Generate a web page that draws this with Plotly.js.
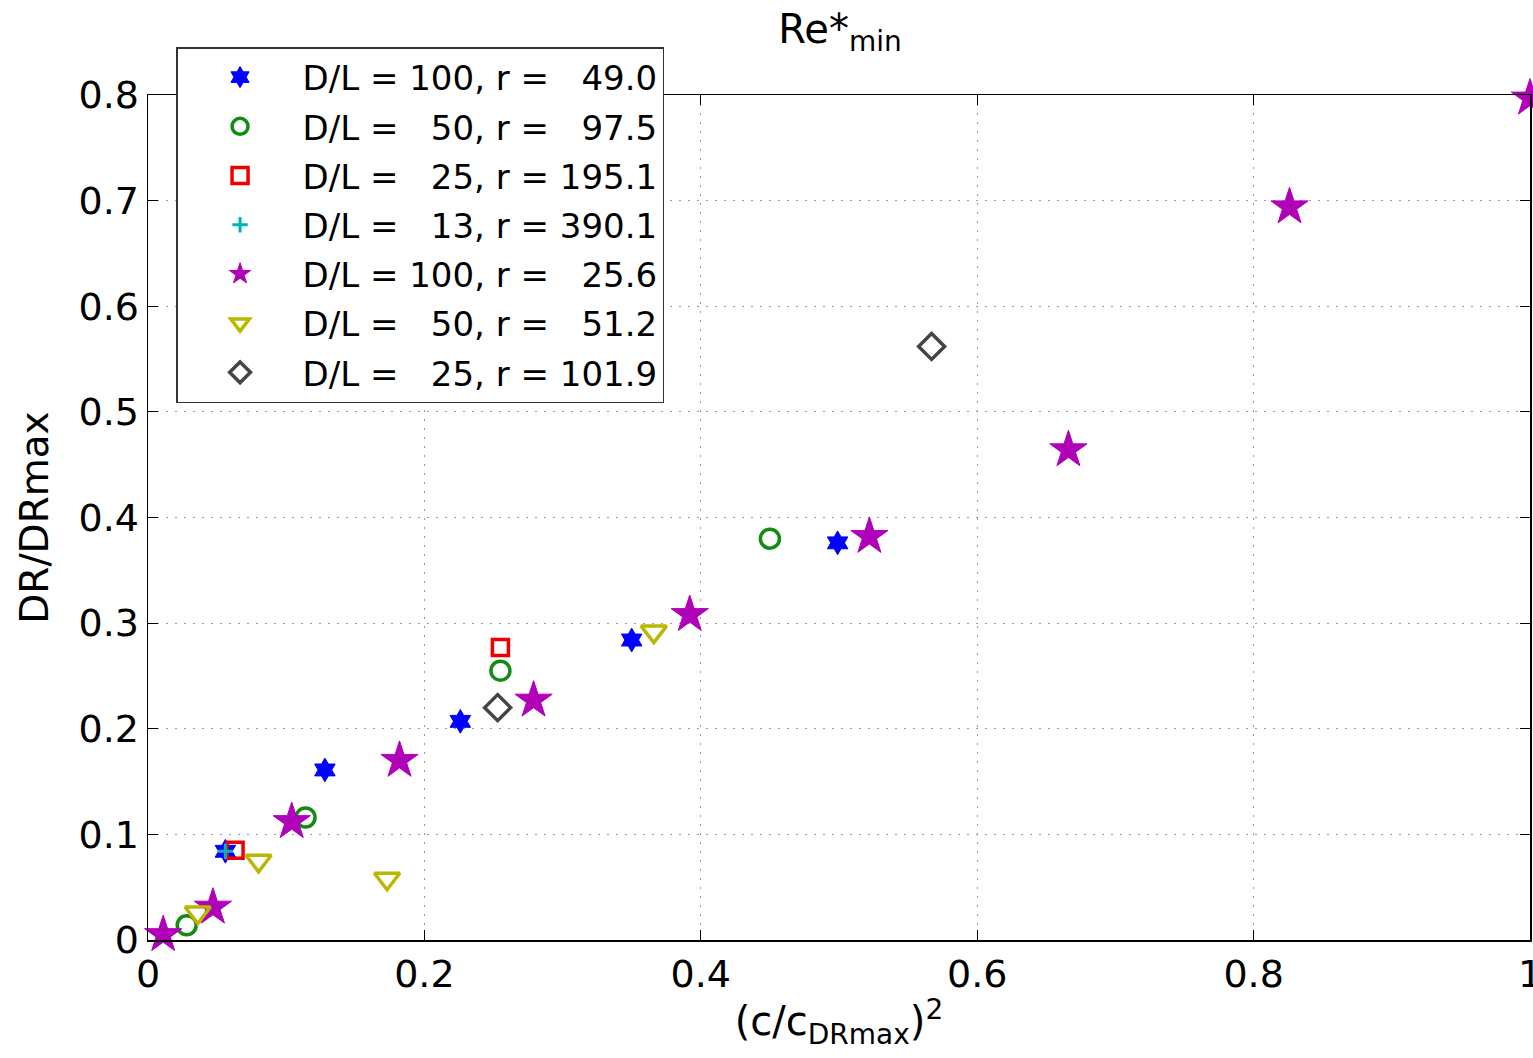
<!DOCTYPE html>
<html>
<head>
<meta charset="utf-8">
<script src="https://cdn.plot.ly/plotly-3.0.1.min.js"></script>
<style>html,body{margin:0;padding:0;background:#fff;}#chart{width:1533px;height:1058px;}</style>
</head>
<body>
<div id="chart"></div>
<script>
// Series: x = (c/c_DRmax)^2, y = DR/DRmax
const s1Name = 'D/L = 100, r = \u00a0\u00a049.0';
const s1X = [0.056, 0.128, 0.226, 0.350, 0.499];
const s1Y = [0.084, 0.161, 0.207, 0.284, 0.376];

const s2Name = 'D/L = \u00a0\u00a050, r = \u00a0\u00a097.5';
const s2X = [0.028, 0.114, 0.255, 0.450];
const s2Y = [0.014, 0.116, 0.255, 0.380];

const s3Name = 'D/L = \u00a0\u00a025, r = 195.1';
const s3X = [0.063, 0.255];
const s3Y = [0.085, 0.277];

const s4Name = 'D/L = \u00a0\u00a013, r = 390.1';
const s4X = [0.056];
const s4Y = [0.084];

const s5Name = 'D/L = 100, r = \u00a0\u00a025.6';
const s5X = [0.011, 0.047, 0.104, 0.182, 0.279, 0.392, 0.522, 0.666, 0.826, 1.0];
const s5Y = [0.005, 0.031, 0.112, 0.170, 0.227, 0.308, 0.382, 0.464, 0.694, 0.797];

const s6Name = 'D/L = \u00a0\u00a050, r = \u00a0\u00a051.2';
const s6X = [0.036, 0.080, 0.173, 0.366];
const s6Y = [0.026, 0.075, 0.058, 0.292];

const s7Name = 'D/L = \u00a0\u00a025, r = 101.9';
const s7X = [0.253, 0.567];
const s7Y = [0.220, 0.562];

const xTicks = [0, 0.2, 0.4, 0.6, 0.8, 1];
const yTicks = [0, 0.1, 0.2, 0.3, 0.4, 0.5, 0.6, 0.7, 0.8];

const FONT = 'DejaVu Sans, Liberation Sans, Arial, sans-serif';

function tr(name, x, y, symbol, color, size, lw, grp) {
  return {
    type: 'scatter', mode: 'markers', name: name, x: x, y: y, cliponaxis: false,
    legendgroup: grp,
    marker: {symbol: symbol, color: color, size: size, line: {color: color, width: lw}}
  };
}

const data = [
  tr(s1Name, s1X, s1Y, 'hexagram', '#0000ff', 18, 1, 'g1'),
  tr(s2Name, s2X, s2Y, 'circle-open', '#138a13', 19, 3.5, 'g2'),
  tr(s3Name, s3X, s3Y, 'square-open', '#ee0000', 16, 3.5, 'g3'),
  tr(s4Name, s4X, s4Y, 'cross-thin-open', '#00b4b4', 11, 3, 'g4'),
  tr(s5Name, s5X, s5Y, 'star', '#b000b8', 28, 1, 'g5'),
  tr(s6Name, s6X, s6Y, 'triangle-down-open', '#b8b800', 22, 3.5, 'g6'),
  tr(s7Name, s7X, s7Y, 'diamond-open', '#444444', 20, 3.5, 'g7')
];

const layout = {
  width: 1533, height: 1058,
  margin: {l: 148, r: 3, t: 95, b: 118},
  paper_bgcolor: '#ffffff', plot_bgcolor: '#ffffff',
  font: {family: FONT, color: '#000', size: 38},
  title: {text: 'Re*<sub>min</sub>', x: 0.548, xanchor: 'center', y: 0.973, yanchor: 'middle', yref: 'container',
          font: {family: FONT, size: 40, color: '#000'}},
  xaxis: {
    range: [0, 1], tickvals: xTicks, ticktext: xTicks.map(String),
    showline: true, linecolor: '#000', linewidth: 1.5, mirror: 'ticks',
    ticks: 'inside', ticklen: 10, tickcolor: '#000',
    showgrid: true, gridcolor: '#9a9a9a', griddash: '2px,7px', gridwidth: 1.2,
    zeroline: false, ticklabeloverflow: 'allow',
    tickfont: {family: FONT, size: 38},
    title: {text: '(c/c<sub>DRmax</sub>)<sup>2</sup>', font: {family: FONT, size: 40}, standoff: 12}
  },
  yaxis: {
    range: [0, 0.8], tickvals: yTicks, ticktext: yTicks.map(String),
    showline: true, linecolor: '#000', linewidth: 1.5, mirror: 'ticks',
    ticks: 'inside', ticklen: 10, tickcolor: '#000',
    showgrid: true, gridcolor: '#9a9a9a', griddash: '2px,7px', gridwidth: 1.2,
    zeroline: false, ticklabeloverflow: 'allow',
    tickfont: {family: FONT, size: 38},
    title: {text: 'DR/DRmax', font: {family: FONT, size: 39}, standoff: 18}
  },
  showlegend: true,
  legend: {
    x: 0.0203, y: 1.0568, xanchor: 'left', yanchor: 'top',
    bgcolor: '#ffffff', bordercolor: '#333333', borderwidth: 1.5,
    font: {family: FONT, size: 34, color: '#000'},
    itemwidth: 115, itemsizing: 'trace', tracegroupgap: 2
  }
};

Plotly.newPlot('chart', data, layout, {displayModeBar: false, staticPlot: true});
</script>
</body>
</html>
